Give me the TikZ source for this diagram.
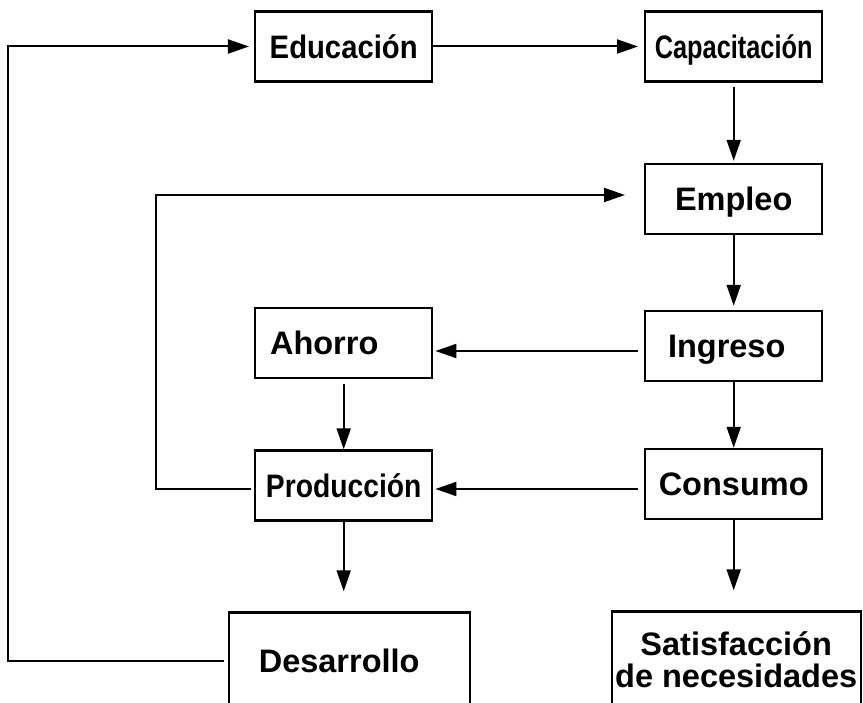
\documentclass[tikz,border=0pt]{standalone}
\usepackage{fontspec}
\setmainfont{Liberation Sans}
\usepackage{graphicx}
\usetikzlibrary{shapes,arrows.meta,positioning}
\newcommand{\squeezed}[2]{\scalebox{#1}[1]{#2}}
\tikzset{basic/.style={draw,line width=2.4pt,inner sep=0pt,font=\fontsize{32.5}{32}\selectfont\bfseries,text height=23.2pt,text depth=0pt}}
\tikzset{stage/.style={basic,rectangle,minimum width=177pt,minimum height=70pt}}
\tikzset{result/.style={basic,rectangle,minimum width=241pt,minimum height=97pt}}
\tikzset{arrow/.style={draw,line width=2pt,-{Triangle[length=21pt,width=14pt]}}}

\begin{document}
\begin{tikzpicture}[node distance=390pt,auto]
    \useasboundingbox (-343.7pt,46.5pt) rectangle (519.3pt,-656.5pt);

    \node[stage] (edu) {\squeezed{0.9}{Educación}};
    \node[stage,right of=edu] (cap) {\squeezed{0.78}{Capacitación}};
    \node[stage,below of=cap,node distance=152.5pt] (emp) {Empleo};
    \node[stage,below of=emp,node distance=147pt] (ing) {Ingreso\hspace*{14pt}};
    \node[stage,below of=ing,node distance=138pt] (con) {Consumo};
    \node[result,below of=con,node distance=176pt,xshift=2.5pt,minimum width=249pt,align=center,text height=,text depth=] (sat) {Satisfacción\\de necesidades};

    \node[stage,left of=ing,yshift=3pt] (aho) {Ahorro\hspace*{39pt}};
    \node[stage,left of=con,yshift=-1.5pt] (pro) {\squeezed{0.87}{Producción}};
    \node[result,below of=pro,node distance=175.5pt,xshift=6pt] (des) {Desarrollo\hspace*{21pt}};

        \path[arrow,shorten >=6pt] (edu) -- (cap);
        \path[arrow,shorten <=4pt,shorten >=2pt] (cap) -- (emp);
        \path[arrow,shorten >=4pt] (emp) -- (ing);
        \path[arrow] (ing) -- (con);
        \path[arrow,shorten >=20pt] (con.south) -- (con.south |- sat.north);
        \path[arrow,shorten <=6pt,shorten >=2pt] ([yshift=-5pt]ing.west) -- ([yshift=-5pt]ing.west -| aho.east);
        \path[arrow,shorten <=6pt,shorten >=2pt] ([yshift=-5pt]con.west) -- ([yshift=-5pt]con.west -| pro.east);
        \path[arrow,shorten <=5pt] (aho) -- (pro);
        \path[arrow,shorten >=20pt] (pro.south) -- (pro.south |- des.north);
        \path[arrow,shorten <=3pt,shorten >=19pt] ([yshift=-3.5pt]pro.west) -- ++(-98pt,0) |- ([yshift=4pt]emp.west);
        \path[arrow,shorten <=4pt,shorten >=5pt] (des.west) -- ++(-220pt,0) |- (edu.west);
  \end{tikzpicture}
\end{document}
